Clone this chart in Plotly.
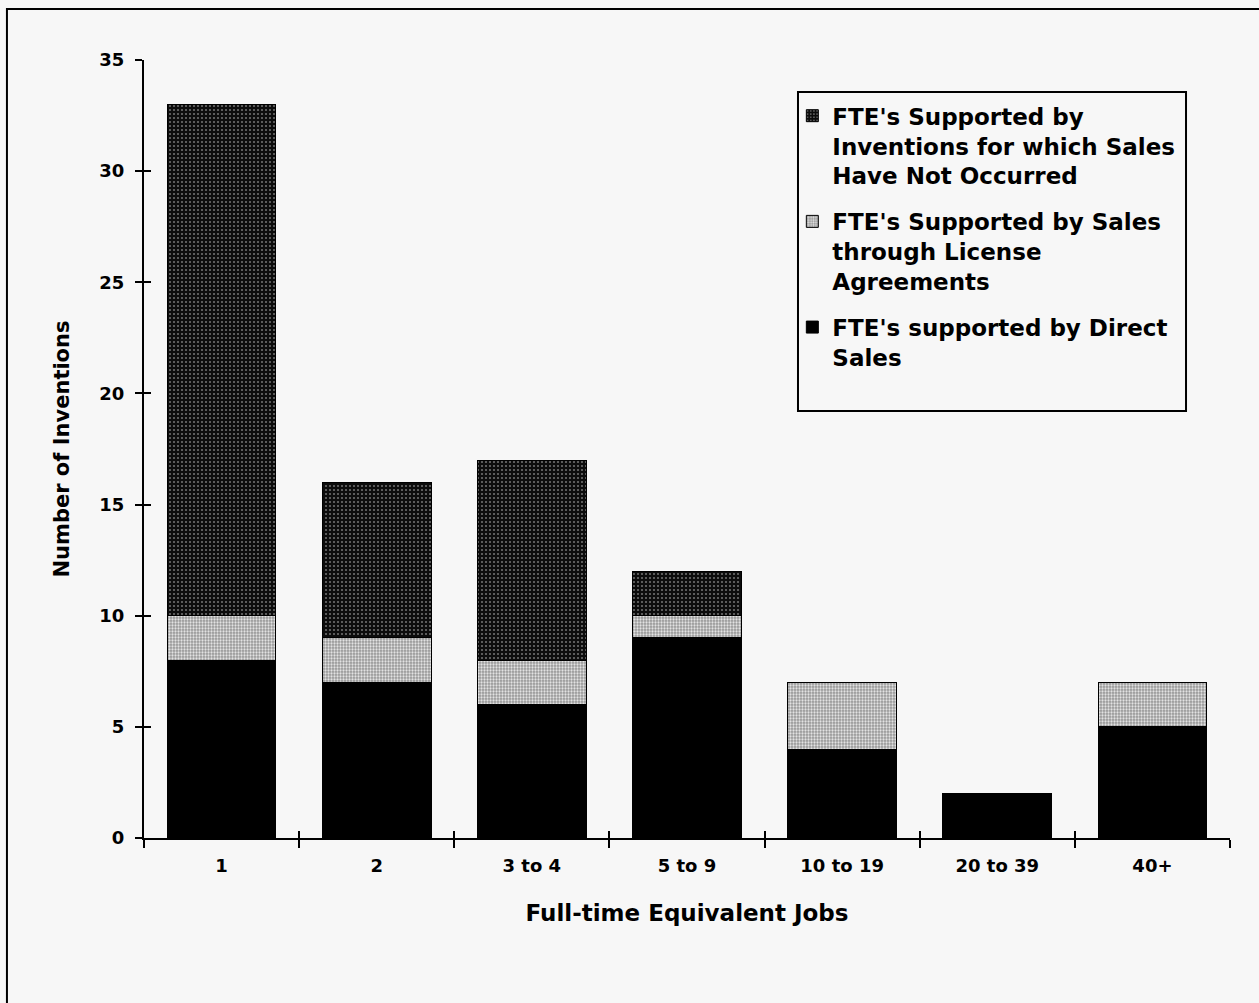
import plotly.graph_objects as go

# Job-size categories (full-time equivalent jobs) and invention counts per source of support
categories = ["1", "2", "3 to 4", "5 to 9", "10 to 19", "20 to 39", "40+"]
direct_sales = [8, 7, 6, 9, 4, 2, 5]
license_sales = [2, 2, 2, 1, 3, 0, 2]
no_sales_yet = [23, 7, 9, 2, 0, 0, 0]

series_names = [
    "FTE's supported by Direct<br>Sales",
    "FTE's Supported by Sales<br>through License<br>Agreements",
    "FTE's Supported by<br>Inventions for which Sales<br>Have Not Occurred",
]

FONT = "DejaVu Sans"
BG = "#f7f7f7"

fig = go.Figure()

fig.add_trace(go.Bar(
    x=categories, y=direct_sales, name=series_names[0],
    legendgroup="direct", legendrank=3,
    marker=dict(color="#000000", line=dict(color="#000000", width=1)),
))
fig.add_trace(go.Bar(
    x=categories, y=license_sales, name=series_names[1],
    legendgroup="license", legendrank=2,
    marker=dict(
        color="#a6a6a6",
        line=dict(color="#000000", width=1),
        pattern=dict(shape=".", bgcolor="#969696", fgcolor="#e2e2e2",
                     size=3, solidity=0.45, fillmode="replace"),
    ),
))
fig.add_trace(go.Bar(
    x=categories, y=no_sales_yet, name=series_names[2],
    legendgroup="nosales", legendrank=1,
    marker=dict(
        color="#202020",
        line=dict(color="#000000", width=1),
        pattern=dict(shape=".", bgcolor="#0c0c0c", fgcolor="#6e6e6e",
                     size=4, solidity=0.22, fillmode="replace"),
    ),
))

# Invisible companion trace so the overlaid axes can draw the inner half of each tick mark
fig.add_trace(go.Scatter(
    x=categories, y=direct_sales, xaxis="x2", yaxis="y2",
    mode="none", showlegend=False, hoverinfo="skip",
))

tick_font = dict(family=FONT, size=18, weight="bold")

fig.update_layout(
    width=1259, height=1003,
    barmode="stack", bargap=0.3,
    paper_bgcolor=BG, plot_bgcolor=BG,
    margin=dict(l=144, r=29, t=60, b=165, autoexpand=False),
    font=dict(family=FONT, color="#000000", size=18),
    showlegend=True,
    legend=dict(
        x=0.597, y=0.956, xanchor="left", yanchor="top",
        bgcolor="rgba(0,0,0,0)", borderwidth=0,
        traceorder="grouped", tracegroupgap=13,
        valign="top",
        font=dict(family=FONT, size=23, color="#000000", weight="bold"),
    ),
    xaxis=dict(
        type="category", range=[-0.5, 6.5],
        showline=True, linecolor="#000000", linewidth=2,
        ticks="outside", tickson="boundaries", ticklen=8, tickwidth=2, tickcolor="#000000",
        ticklabelstandoff=10,
        tickfont=tick_font,
        showgrid=False, zeroline=False,
        title=dict(text="Full-time Equivalent Jobs", standoff=30,
                   font=dict(family=FONT, size=23, weight="bold")),
        automargin=False,
    ),
    yaxis=dict(
        range=[0, 35], dtick=5,
        showline=True, linecolor="#000000", linewidth=2,
        ticks="outside", ticklen=7, tickwidth=2, tickcolor="#000000",
        ticklabelstandoff=7,
        tickfont=tick_font,
        showgrid=False, zeroline=False,
        title=dict(text="Number of Inventions", standoff=24,
                   font=dict(family=FONT, size=21, weight="bold")),
        automargin=False,
    ),
    xaxis2=dict(
        type="category", overlaying="x", side="bottom", range=[-0.5, 6.5],
        categoryorder="array", categoryarray=categories,
        ticks="inside", tickson="boundaries", ticklen=7, tickwidth=2, tickcolor="#000000",
        showticklabels=False, showline=False, showgrid=False, zeroline=False,
    ),
    yaxis2=dict(
        overlaying="y", side="left", range=[0, 35], dtick=5,
        ticks="inside", ticklen=7, tickwidth=2, tickcolor="#000000",
        showticklabels=False, showline=False, showgrid=False, zeroline=False,
    ),
    shapes=[
        # legend frame
        dict(type="rect", xref="paper", yref="paper",
             x0=0.6022, x1=0.9595, y0=0.5488, y1=0.9589,
             line=dict(color="#000000", width=2), fillcolor="rgba(0,0,0,0)"),
        # outer chart frame (top and left edges visible)
        dict(type="rect", xref="paper", yref="paper",
             x0=-0.1262, x1=1.05, y0=-0.25, y1=1.0656,
             line=dict(color="#000000", width=2), fillcolor="rgba(0,0,0,0)",
             layer="below"),
    ],
)

fig.write_html("out.html")
